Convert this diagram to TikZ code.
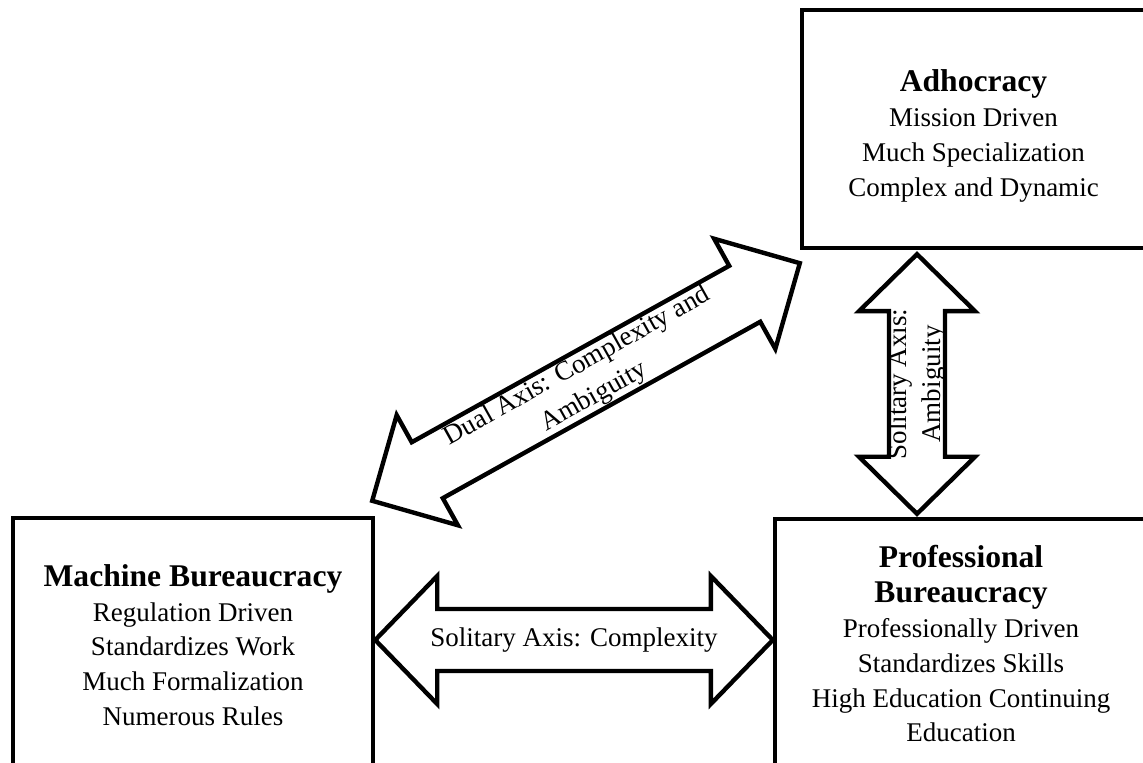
\documentclass[tikz,border=0pt]{standalone}
\usepackage{fontspec}
\setmainfont{Liberation Serif}
\usetikzlibrary{calc}

\tikzset{
  type_box/.style={draw, line width=2.2pt, align=center, inner sep=0pt, font=\fontsize{13.5}{17.4}\selectfont},
  type_title/.style={font=\fontsize{15.8}{17.4}\selectfont\bfseries},
  axis_arrow/.style={draw, fill=white, line width=2.2pt, line join=miter},
  axis_label/.style={align=center, inner sep=0pt, font=\fontsize{13.5}{17.4}\selectfont}
}
\newcommand{\typetitle}[1]{{\fontsize{15.8}{17.4}\selectfont\bfseries #1}}

% double headed block arrow: ends, head length, head half width, shaft half width
\newcommand{\axisarrow}[5]{%
  \coordinate (ba_1) at ($(#1)!#3!(#2)$);
  \coordinate (ba_2) at ($(#2)!#3!(#1)$);
  \draw[axis_arrow] (#1) -- ($(ba_1)!#4!-90:(#2)$) -- ($(ba_1)!#5!-90:(#2)$)
    -- ($(ba_2)!#5!90:(#1)$) -- ($(ba_2)!#4!90:(#1)$) -- (#2)
    -- ($(ba_2)!#4!-90:(#1)$) -- ($(ba_2)!#5!-90:(#1)$)
    -- ($(ba_1)!#5!90:(#2)$) -- ($(ba_1)!#4!90:(#2)$) -- cycle;
}

\begin{document}
\begin{tikzpicture}[x=0.5pt, y=-0.5pt]
\useasboundingbox (0,0) rectangle (1143,763);
\clip (0,0) rectangle (1143,763);
% organisation types
\node[type_box, minimum width=171.5pt, minimum height=119pt] (adho) at (973.5,129)
  {\rule{0pt}{18pt}\typetitle{Adhocracy}\\Mission Driven\\Much Specialization\\Complex and Dynamic};
\node[type_box, minimum width=180pt, minimum height=127pt] (mach) at (193,645)
  {\typetitle{Machine Bureaucracy}\\Regulation Driven\\Standardizes Work\\Much Formalization\\Numerous Rules};
\node[type_box, minimum width=186pt, minimum height=125pt] (prof) at (961,644)
  {\typetitle{Professional}\\\typetitle{Bureaucracy}\\Professionally Driven\\Standardizes Skills\\High Education Continuing\\Education};
% arrow ends
\coordinate (h_left) at ($(mach.east)+(0,-5)$);
\coordinate (h_right) at ($(prof.west)+(0,-4)$);
\coordinate (v_top) at ($(adho.south)+(-56.5,4)$);
\coordinate (v_bottom) at ($(prof.north)+(-44,-3)$);
\coordinate (d_low) at ($(mach.north east)+(-3,-15)$);
\coordinate (d_up) at ($(adho.south west)+(0,13)$);
% axes
\axisarrow{h_left}{h_right}{31pt}{32pt}{15.5pt}
\axisarrow{v_top}{v_bottom}{28.5pt}{29pt}{14pt}
\axisarrow{d_low}{d_up}{31.5pt}{31.5pt}{16pt}
\node[axis_label] (lab_h) at ($(h_left)!0.5!(h_right)$) {Solitary Axis: Complexity};
\node[axis_label, rotate=90] (lab_v) at ($(v_top)!0.5!(v_bottom)$) {Solitary Axis:\\Ambiguity};
\node[axis_label, rotate=29.2] (lab_d) at ($(d_low)!0.5!(d_up)$) {Dual Axis: Complexity and\\Ambiguity};
\end{tikzpicture}
\end{document}
